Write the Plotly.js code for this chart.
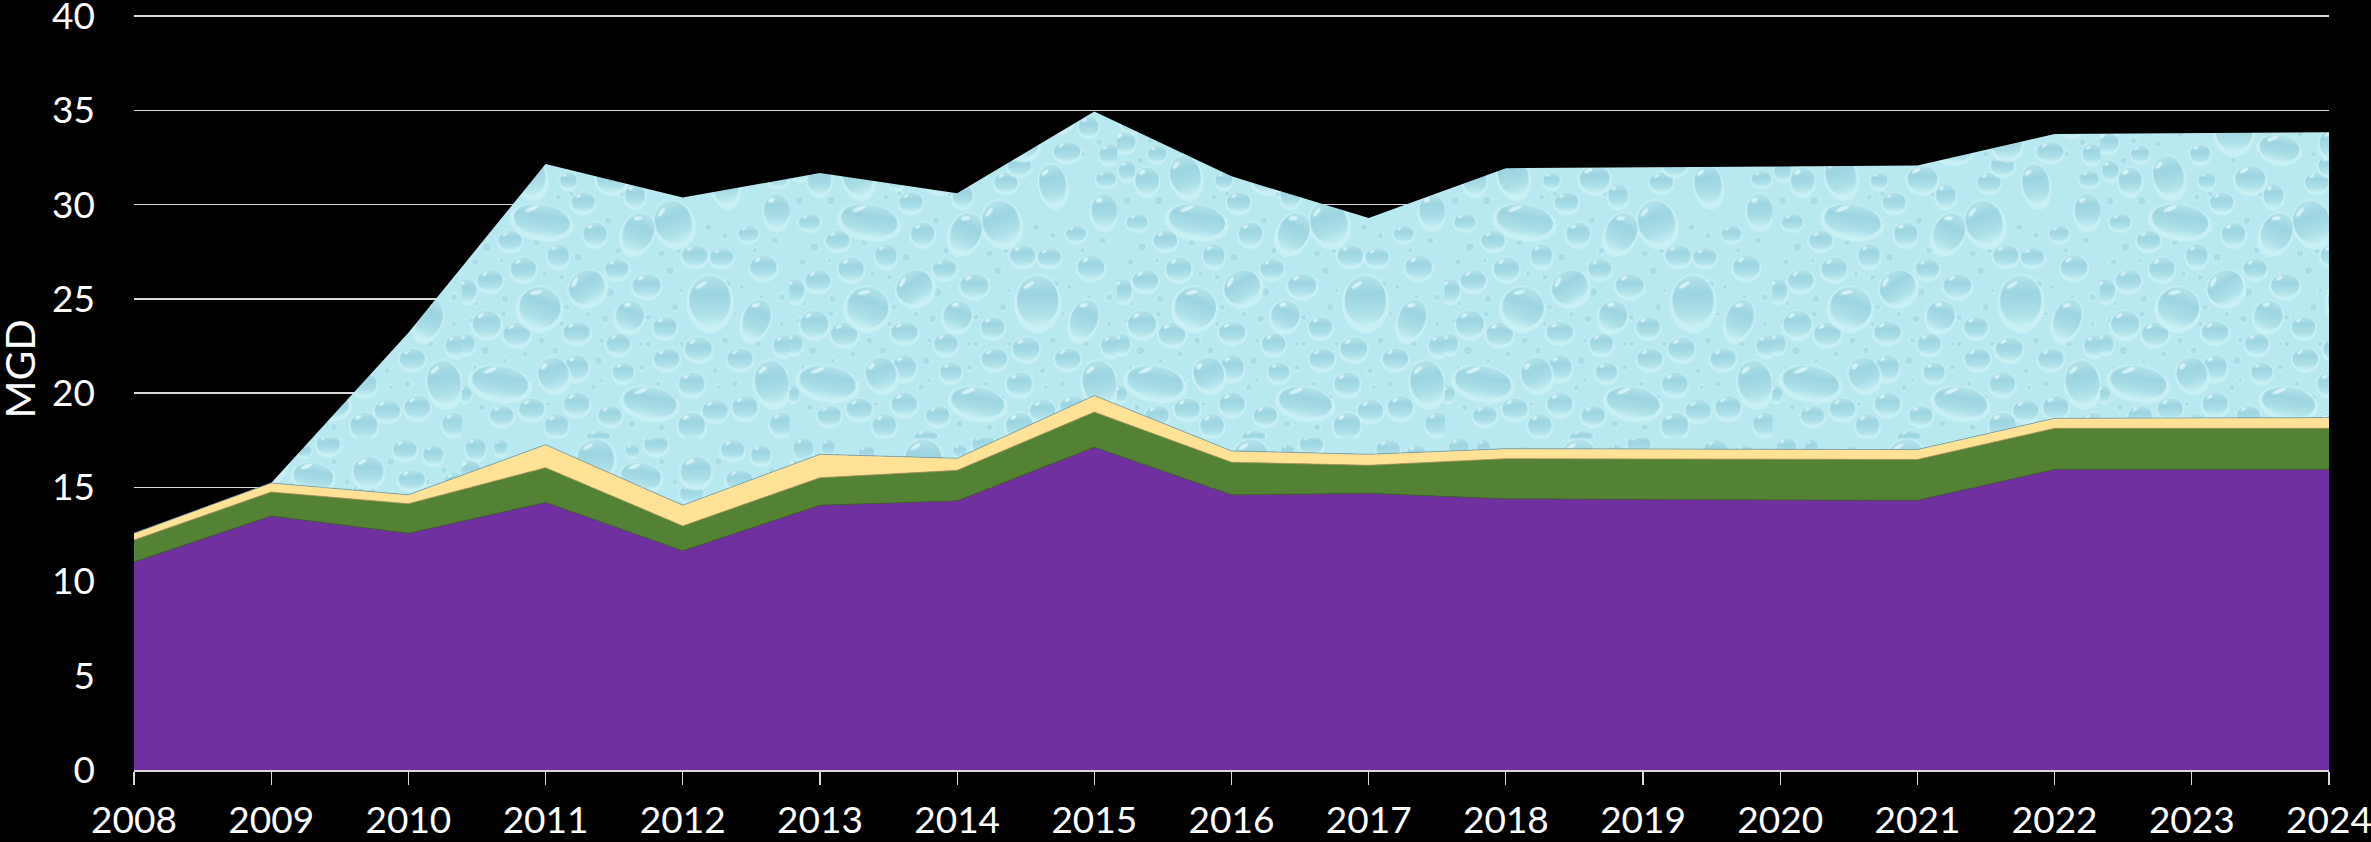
<!DOCTYPE html>
<html>
<head>
<meta charset="utf-8">
<script src="https://cdn.plot.ly/plotly-3.0.1.min.js"></script>
<style>html,body{margin:0;padding:0;background:#000;overflow:hidden}#chart{width:2371px;height:842px}</style>
</head>
<body>
<div id="chart"></div>
<script>
const years = [2008,2009,2010,2011,2012,2013,2014,2015,2016,2017,2018,2019,2020,2021,2022,2023,2024];
const purpleValues = [11.04,13.48,12.56,14.2,11.63,14.05,14.28,17.13,14.6,14.68,14.39,14.35,14.33,14.31,15.95,15.95,15.95];
const greenValues = [1.16,1.27,1.57,1.84,1.32,1.46,1.62,1.86,1.73,1.49,2.13,2.15,2.17,2.17,2.18,2.18,2.18];
const yellowValues = [0.36,0.48,0.47,1.22,1.10,1.24,0.64,0.88,0.60,0.58,0.53,0.53,0.52,0.52,0.53,0.55,0.57];
const waterValues = [0,0,8.6,14.89,16.33,14.92,14.06,15.07,14.57,12.54,14.88,14.94,14.98,15.07,15.09,15.12,15.14];
const yTicks = [0,5,10,15,20,25,30,35,40];

// Decorative water-drop texture for the top band (one repeating tile): cx, cy, rx, ry, rotation
const bigDrops = [[240,330,85,48,10],[235,590,62,60,20],[745,570,62,75,0],[885,625,40,60,20],[115,815,85,48,10],[565,875,80,45,10],[930,815,50,65,-10],[635,335,55,65,-20],[530,365,45,60,25],[205,195,45,60,-15],[375,530,55,50,-30],[90,210,35,40,0],[20,95,35,30,0],[402,62,55,60,0],[790,220,40,60,-10],[450,205,45,40,0],[538,113,60,40,10],[703,98,45,45,0]];
const midDrops = [[85,510,38,32,0],[185,475,38,35,0],[145,390,35,30,0],[60,335,32,25,0],[290,435,32,35,0],[365,275,35,30,0],[400,370,35,35,0],[465,475,35,30,0],[555,525,42,35,0],[505,615,42,45,20],[75,640,42,40,0],[165,670,40,35,0],[345,665,40,32,0],[470,700,35,32,0],[610,650,35,32,0],[710,715,40,35,0],[615,745,38,32,0],[835,745,38,32,0],[345,770,35,38,0],[275,790,45,50,-20],[485,785,32,30,0],[690,820,38,35,0],[210,895,38,32,0],[345,880,38,35,0],[445,915,35,30,0],[760,900,38,32,0],[850,890,38,35,0],[690,945,40,40,0],[960,940,35,35,0],[120,915,35,30,0],[700,435,38,32,0],[780,440,35,28,0],[905,470,40,35,0],[860,370,30,25,0],[945,300,38,50,0],[965,705,30,32,0],[15,540,30,35,0],[15,700,25,30,0],[285,945,35,35,0],[410,980,35,20,0],[10,850,20,25,0],[650,215,35,30,0],[950,205,30,25,0],[520,255,30,35,0],[833,123,40,30,0],[813,33,35,30,0],[898,48,30,30,0],[583,18,35,30,0],[42,30,30,35,0],[690,165,35,30,0],[232,42,25,20,0],[117,27,20,25,0],[512,37,20,20,0],[300,130,30,28,0],[120,130,28,25,0],[960,130,30,30,0],[30,180,25,30,0],[320,210,25,25,0]];
const smallDrops = [[30,270,11],[75,410,12],[125,270,12],[225,395,10],[350,440,11],[290,260,8],[440,330,10],[470,420,9],[40,455,9],[130,565,10],[125,610,8],[445,545,12],[430,625,10],[300,500,8],[625,480,11],[800,520,9],[640,590,10],[560,620,8],[840,530,7],[790,690,10],[280,720,9],[70,720,12],[190,730,8],[410,750,11],[560,700,8],[540,770,8],[660,700,7],[890,700,9],[760,780,8],[640,860,8],[820,820,9],[200,810,7],[60,890,9],[395,830,8],[510,940,10],[600,950,9],[740,350,9],[790,375,8],[940,390,10],[30,630,8],[880,420,7],[650,420,8],[600,430,10],[300,640,7],[100,90,8],[330,250,7],[480,250,7],[900,560,7],[960,560,9],[175,100,8],[240,70,10],[340,60,8],[480,130,9],[600,70,9],[640,130,8],[770,70,10],[880,130,8],[930,95,9],[25,110,7],[70,150,9],[400,150,8],[330,340,7],[500,430,7],[250,490,7],[120,450,6],[315,590,8],[380,610,7],[420,690,7],[240,690,9],[130,750,7],[420,810,6],[540,700,6],[590,820,7],[730,640,7],[660,540,6],[820,610,6],[960,640,7],[890,770,7],[770,830,6],[520,850,6],[170,900,6],[260,880,6],[40,770,6],[930,480,0],[45,580,6]].filter(d => d[2] > 0);

const mkTrace = (vals, fill, lineColor, lineW) => ({
  x: years, y: vals, type: 'scatter', mode: 'lines', stackgroup: 'flow',
  fillcolor: fill, line: {color: lineColor, width: lineW}, hoverinfo: 'skip'
});
const waterFill = 'rgb(185, 233, 240)';
const traces = [
  mkTrace(purpleValues, '#7030A0', '#44612f', 0.8),
  mkTrace(greenValues, '#548235', '#b09a60', 0.8),
  mkTrace(yellowValues, '#FFE296', '#7fa3ad', 0.8),
  mkTrace(waterValues, waterFill, waterFill, 0)
];
const font = {family: 'Lato, "Open Sans", sans-serif', color: '#ffffff', size: 37};
const layout = {
  width: 2371, height: 842, paper_bgcolor: '#000000', plot_bgcolor: '#000000',
  margin: {l: 134, r: 42, t: 15, b: 72}, showlegend: false, hovermode: false, font: font,
  xaxis: {type: 'linear', range: [2008, 2024], tickmode: 'array', tickvals: years, ticktext: years.map(String),
    ticks: 'outside', ticklen: 13, tickwidth: 1.2, tickcolor: '#d9d9d9', showline: true, linecolor: '#d9d9d9', linewidth: 2,
    showgrid: false, zeroline: false, tickfont: font, ticklabeloverflow: 'allow', ticklabelstandoff: 4, fixedrange: true},
  yaxis: {range: [0, 40.06], tickmode: 'array', tickvals: yTicks, ticktext: yTicks.map(String), ticks: '',
    showline: false, showgrid: true, gridcolor: '#d9d9d9', gridwidth: 1.5, zeroline: false, tickfont: font,
    ticklabelstandoff: 38, ticklabeloverflow: 'allow', fixedrange: true},
  annotations: [{text: 'MGD', xref: 'paper', yref: 'paper', x: 0, y: 0.5305, xanchor: 'center', yanchor: 'middle',
    xshift: -115, textangle: -90, showarrow: false, font: {family: font.family, color: '#ffffff', size: 41}}]
};

Plotly.newPlot('chart', traces, layout, {displayModeBar: false, staticPlot: true}).then(gd => {
  const NS = 'http://www.w3.org/2000/svg';
  const drop = (d, big) => {
    const [cx, cy, rx, ry, rot] = d;
    const hx = cx - rx * 0.42, hy = cy - ry * 0.62;
    let s = `<g transform="rotate(${rot} ${cx} ${cy})">`;
    s += `<ellipse cx="${cx}" cy="${cy + ry * 0.12}" rx="${rx * 1.14}" ry="${ry * 1.18}" fill="#cdf2f6" opacity="0.8"/>`;
    s += `<ellipse cx="${cx}" cy="${cy}" rx="${rx}" ry="${ry}" fill="url(#dropBody)"/>`;
    s += `<ellipse cx="${hx}" cy="${hy}" rx="${big ? Math.min(rx * 0.3, 22) : rx * 0.24}" ry="${big ? 6 : Math.max(ry * 0.14, 3)}" transform="rotate(-32 ${hx} ${hy})" fill="#ddf7f9" opacity="0.85"/>`;
    return s + '</g>';
  };
  const small = d => `<circle cx="${d[0]}" cy="${d[1]}" r="${d[2] + 3}" fill="#cdf2f6" opacity="0.7"/><circle cx="${d[0]}" cy="${d[1]}" r="${d[2]}" fill="#a8dde7"/>`;
  const svg = gd.querySelector('.main-svg');
  const defs = document.createElementNS(NS, 'defs');
  defs.innerHTML = `<linearGradient id="dropBody" x1="0" y1="0" x2="0" y2="1"><stop offset="0" stop-color="#b4e3eb"/><stop offset="0.35" stop-color="#9cd4e1"/><stop offset="0.75" stop-color="#acdfe8"/><stop offset="1" stop-color="#c4eef3"/></linearGradient>
  <filter id="soft" x="-5%" y="-5%" width="110%" height="110%"><feGaussianBlur stdDeviation="1.6"/></filter>
  <pattern id="drops" patternUnits="userSpaceOnUse" x="0" y="95.5" width="327.7" height="328">
  <rect width="328" height="328" fill="#b9e9f0"/><g transform="scale(0.3333)" filter="url(#soft)"><rect x="-30" y="-30" width="1044" height="1044" fill="#b9e9f0"/>${smallDrops.map(small).join('')}${midDrops.map(d => drop(d, false)).join('')}${bigDrops.map(d => drop(d, true)).join('')}</g></pattern>`;
  svg.insertBefore(defs, svg.firstChild);
  gd.querySelectorAll('.scatterlayer .js-fill').forEach(p => {
    if (getComputedStyle(p).fill === waterFill) { p.style.fill = 'url(#drops)'; p.style.fillOpacity = 1; }
  });
});
</script>
</body>
</html>
